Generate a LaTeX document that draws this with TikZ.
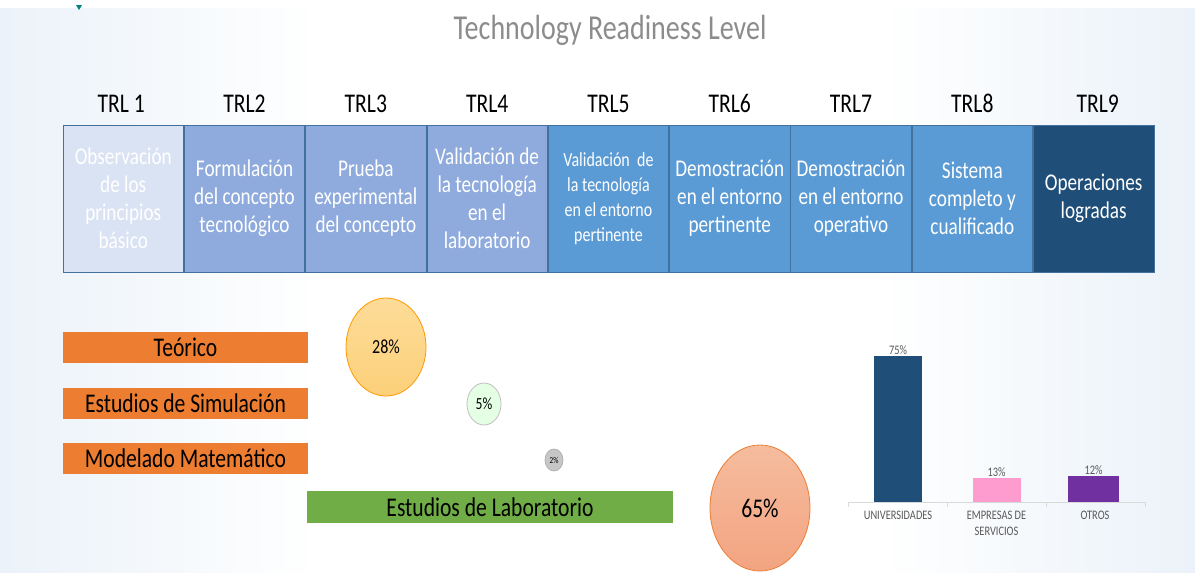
\documentclass[tikz,border=0pt]{standalone}
\usepackage{fontspec}
\setmainfont{Carlito}[FakeStretch=0.8]
\usetikzlibrary{positioning}
\usetikzlibrary{shapes.geometric}
\definecolor{trlpale}{HTML}{DAE3F3}
\definecolor{trllight}{HTML}{8FAADC}
\definecolor{trlmid}{HTML}{5B9BD5}
\definecolor{trldark}{HTML}{1F4E79}
\definecolor{trlline}{HTML}{41719C}
\definecolor{catorange}{HTML}{ED7D31}
\definecolor{labgreen}{HTML}{70AD47}
\definecolor{chartpink}{HTML}{FF9CCF}
\definecolor{chartviolet}{HTML}{7030A0}
\definecolor{titlegray}{HTML}{8C8C8C}
\definecolor{axisgray}{HTML}{D9D9D9}
\definecolor{labelgray}{HTML}{595959}
\definecolor{slideblue}{HTML}{EBF2F9}
\definecolor{bubbletop}{HTML}{FDDC98}
\definecolor{bubblebot}{HTML}{FCD07A}
\definecolor{bigtop}{HTML}{F5BC9E}
\definecolor{bigbot}{HTML}{F3A481}

\begin{document}
\begin{tikzpicture}[x=1pt,y=-1pt,
     trl/.style={draw=trlline,line width=0.8pt,minimum width=120.5pt,minimum height=147pt,inner sep=0pt,
       text width=118pt,align=flush center,text=white,font=\fontsize{24}{28}\selectfont},
     lvl/.style={inner sep=0pt,anchor=south,font=\fontsize{27}{30}\selectfont},
     cat/.style={inner sep=0pt,minimum height=31pt,font=\fontsize{27}{30}\selectfont},
     bubble/.style={ellipse,inner sep=0pt,line width=0.8pt},
     bar/.style={inner sep=0pt,minimum width=48pt,anchor=south},
     pct/.style={inner sep=1pt,text=labelgray,font=\fontsize{13}{15}\selectfont},
     axlabel/.style={inner sep=0pt,anchor=north,align=center,text=labelgray,font=\fontsize{13}{16}\selectfont}
   ]
   \path[use as bounding box] (0,0) rectangle (1195,573);
   % Slide background.
   \fill[white] (0,0) rectangle (1195,573);
   \shade[left color=slideblue,right color=white] (0,8) rectangle (320,573);
   \shade[left color=white,right color=slideblue] (880,8) rectangle (1195,573);
   \fill[teal] (76,5) -- (82,5) -- (79,10) -- cycle;
   \node[text=titlegray,font=\fontsize{35}{38}\selectfont] (title) at (610,30) {Technology Readiness Level};
   % Readiness levels.
   \node[trl,fill=trlpale] (b1) at (123.25,198.5) {Observación\\de los\\principios\\básico};
   \node[trl,fill=trllight,right=0pt of b1] (b2) {Formulación\\del concepto\\tecnológico};
   \node[trl,fill=trllight,right=0pt of b2] (b3) {Prueba\\experimental\\del concepto};
   \node[trl,fill=trllight,right=0pt of b3] (b4) {Validación de\\la tecnología\\en el\\laboratorio};
   \node[trl,fill=trlmid,right=0pt of b4,font=\fontsize{20}{25}\selectfont] (b5) {Validación\ \ de\\la tecnología\\en el entorno\\pertinente};
   \node[trl,fill=trlmid,right=0pt of b5] (b6) {Demostración\\en el entorno\\pertinente};
   \node[trl,fill=trlmid,right=0pt of b6] (b7) {Demostración\\en el entorno\\operativo};
   \node[trl,fill=trlmid,right=0pt of b7] (b8) {Sistema\\completo y\\cualificado};
   \node[trl,fill=trldark,right=0pt of b8] (b9) {Operaciones\\logradas};
   \node[lvl,above=12pt of b1,xshift=-2pt] (l1) {TRL 1};
   \node[lvl,above=12pt of b2] (l2) {TRL2};
   \node[lvl,above=12pt of b3] (l3) {TRL3};
   \node[lvl,above=12pt of b4] (l4) {TRL4};
   \node[lvl,above=12pt of b5] (l5) {TRL5};
   \node[lvl,above=12pt of b6] (l6) {TRL6};
   \node[lvl,above=12pt of b7] (l7) {TRL7};
   \node[lvl,above=12pt of b8] (l8) {TRL8};
   \node[lvl,above=12pt of b9,xshift=4pt] (l9) {TRL9};
   % Kinds of study.
   \node[cat,fill=catorange,minimum width=245pt] (teo) at (185.5,347.5) {Teórico};
   \node[cat,fill=catorange,minimum width=245pt] (sim) at (185.5,403) {Estudios de Simulación};
   \node[cat,fill=catorange,minimum width=245pt] (mat) at (185.5,458.5) {Modelado Matemático};
   \node[cat,fill=labgreen,minimum width=366pt,minimum height=32pt] (lab) at (490,507) {Estudios de Laboratorio};
   % Shares.
   \node[bubble,draw=orange!80!yellow,top color=bubbletop,bottom color=bubblebot,
     minimum width=80pt,minimum height=98pt,font=\fontsize{20}{22}\selectfont] (p28) at (386,347) {28\%};
   \node[bubble,draw=gray!50,fill=green!10!white,minimum width=34pt,minimum height=42pt,
     font=\fontsize{17}{19}\selectfont] (p5) at (484,404) {5\%};
   \node[bubble,draw=gray!60,fill=gray!45,minimum width=18pt,minimum height=22pt,
     font=\fontsize{9}{10}\selectfont] (p2) at (554,460) {2\%};
   \node[bubble,draw=catorange,top color=bigtop,bottom color=bigbot,
     minimum width=100pt,minimum height=126pt,font=\fontsize{27}{30}\selectfont] (p65) at (760,508) {65\%};
   % Bar chart.
   \draw[axisgray,line width=0.8pt] (848,502) -- (1145,502);
   \foreach \x in {848,947,1046,1145}
     \draw[axisgray,line width=0.8pt] (\x,502) -- (\x,507);
   \node[bar,fill=trldark,minimum height=146pt] (uni) at (898,502) {};
   \node[bar,fill=chartpink,minimum height=24pt] (emp) at (996.5,502) {};
   \node[bar,fill=chartviolet,minimum width=51pt,minimum height=26pt] (otr) at (1093.5,502) {};
   \node[pct,above=0pt of uni] (vuni) {75\%};
   \node[pct,above=0pt of emp] (vemp) {13\%};
   \node[pct,above=0pt of otr] (votr) {12\%};
   \node[axlabel] (cuni) at (898,511) {UNIVERSIDADES};
   \node[axlabel] (cemp) at (996.5,511) {EMPRESAS DE\\SERVICIOS};
   \node[axlabel] (cotr) at (1095,511) {OTROS};
 \end{tikzpicture}
\end{document}
